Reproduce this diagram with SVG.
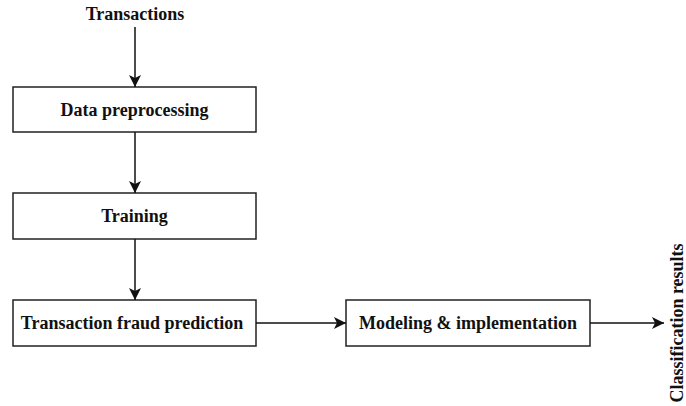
<svg xmlns="http://www.w3.org/2000/svg" width="686" height="406" viewBox="0 0 686 406">
<style>
.box{fill:#fff;stroke:#222;stroke-width:1.5}
.t{font-family:"Liberation Serif","Times New Roman",serif;font-weight:bold;font-size:18px;fill:#111;text-anchor:middle}
.c{stroke:#111;stroke-width:1.5;fill:none;marker-end:url(#ah)}
</style>
<defs>
<marker id="ah" viewBox="0 0 10 10" refX="10" refY="5" markerWidth="12" markerHeight="12" markerUnits="userSpaceOnUse" orient="auto">
<path d="M0,0 L10,5 L0,10 L2.5,5 Z" fill="#111"/>
</marker>
</defs>
<g id="transactions"><text class="t" x="135" y="20">Transactions</text></g>
<g id="preprocessing"><rect class="box" x="13" y="87" width="243" height="45"/><text class="t" x="134.5" y="116">Data preprocessing</text></g>
<g id="training"><rect class="box" x="13" y="193" width="243" height="46"/><text class="t" x="134.5" y="222">Training</text></g>
<g id="prediction"><rect class="box" x="13" y="300" width="243" height="46"/><text class="t" x="132" y="329">Transaction fraud prediction</text></g>
<g id="modeling"><rect class="box" x="346" y="300" width="244" height="46"/><text class="t" x="468" y="329">Modeling &amp; implementation</text></g>
<g id="results"><text class="t" transform="translate(683,323) rotate(-90)">Classification results</text></g>
<g id="connectors">
<path class="c" d="M135,27 V87"/>
<path class="c" d="M135,132 V193"/>
<path class="c" d="M135,239 V300"/>
<path class="c" d="M256,323 H346"/>
<path class="c" d="M590,323 H664"/>
</g>
</svg>
